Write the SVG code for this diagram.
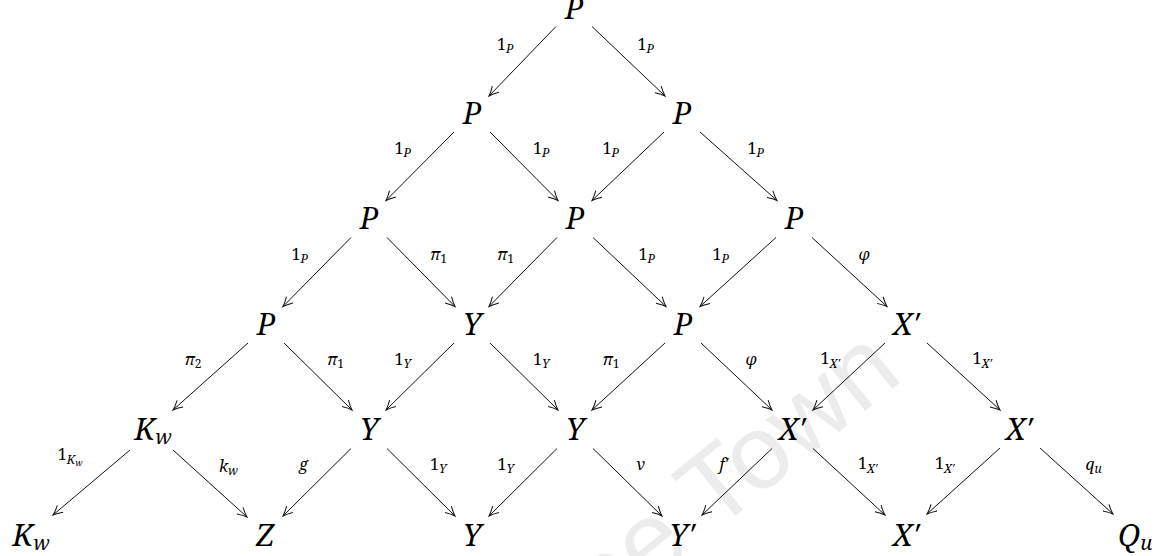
<svg xmlns="http://www.w3.org/2000/svg" width="1166" height="556" viewBox="0 0 1166 556">
<style>
.n{font-family:"Noto Serif",serif;font-size:30px;font-style:italic;text-anchor:middle;fill:#000}
.ns{font-size:20px}
.l{font-family:"Noto Serif",serif;font-size:16px;fill:#000}
.i{font-style:italic}
.s{font-size:12px;font-style:italic}
.sr{font-size:12px}
.ss{font-size:9px;font-style:italic}
.e{stroke:#111;stroke-width:1;fill:none;marker-end:url(#ah)}
.wm{font-family:"Liberation Sans",Arial,sans-serif;font-size:105px;fill:#ececec}
</style>
<defs>
<marker id="ah" markerUnits="userSpaceOnUse" viewBox="-12 -7 14 14" refX="0" refY="0" markerWidth="14" markerHeight="14" orient="auto">
<path d="M-9.5,-4.5 Q-4,-1.2 0,0 Q-4,1.2 -9.5,4.5" fill="none" stroke="#111" stroke-width="1"/>
</marker>
</defs>
<rect width="1166" height="556" fill="#fff"/>
<text class="wm" transform="translate(498,708) rotate(-39)">Cape Town</text>

<g id="connectors">
<path class="e" d="M556,26.5L489,96"/>
<path class="e" d="M592,26.5L665,96"/>
<path class="e" d="M454,132L386,200.5"/>
<path class="e" d="M490,132L558,200.5"/>
<path class="e" d="M664,132L592,200.5"/>
<path class="e" d="M700,132L777,200.5"/>
<path class="e" d="M351,237.5L283,306.5"/>
<path class="e" d="M387,237.5L455,306.5"/>
<path class="e" d="M557,237.5L489,306.5"/>
<path class="e" d="M593,237.5L666,306.5"/>
<path class="e" d="M776,237.5L700,306.5"/>
<path class="e" d="M812,237.5L887,306.5"/>
<path class="e" d="M248,343L173,410"/>
<path class="e" d="M284,343L352,410"/>
<path class="e" d="M454,343L386,410"/>
<path class="e" d="M490,343L558,410"/>
<path class="e" d="M665,343L592,410"/>
<path class="e" d="M701,343L772,410"/>
<path class="e" d="M885,343L813,410"/>
<path class="e" d="M927,343L1000,410"/>
<path class="e" d="M130,450L53,515"/>
<path class="e" d="M173,450L247,517"/>
<path class="e" d="M351,448.5L283,516"/>
<path class="e" d="M387,448.5L455,516"/>
<path class="e" d="M557,448.5L489,516"/>
<path class="e" d="M593,448.5L662,516"/>
<path class="e" d="M772,448.5L702,515"/>
<path class="e" d="M813,448.5L885,515"/>
<path class="e" d="M1000,448L927,514"/>
<path class="e" d="M1040,448L1113,514"/>
</g>

<g id="labels">
<text class="l" x="513.5" y="49.5" text-anchor="end">1<tspan class="s" dy="3">P</tspan></text>
<text class="l" x="637.5" y="49.5">1<tspan class="s" dy="3">P</tspan></text>
<text class="l" x="411" y="154" text-anchor="end">1<tspan class="s" dy="3">P</tspan></text>
<text class="l" x="533" y="154">1<tspan class="s" dy="3">P</tspan></text>
<text class="l" x="619" y="154" text-anchor="end">1<tspan class="s" dy="3">P</tspan></text>
<text class="l" x="747.5" y="154">1<tspan class="s" dy="3">P</tspan></text>
<text class="l" x="308" y="260" text-anchor="end">1<tspan class="s" dy="3">P</tspan></text>
<text class="l" x="430" y="260"><tspan class="i">π</tspan><tspan class="sr" dy="3">1</tspan></text>
<text class="l" x="514" y="260" text-anchor="end"><tspan class="i">π</tspan><tspan class="sr" dy="3">1</tspan></text>
<text class="l" x="638.5" y="260">1<tspan class="s" dy="3">P</tspan></text>
<text class="l" x="729" y="260" text-anchor="end">1<tspan class="s" dy="3">P</tspan></text>
<text class="l i" x="858.5" y="260">φ</text>
<text class="l" x="201.5" y="364.5" text-anchor="end"><tspan class="i">π</tspan><tspan class="sr" dy="3">2</tspan></text>
<text class="l" x="327" y="364.5"><tspan class="i">π</tspan><tspan class="sr" dy="3">1</tspan></text>
<text class="l" x="411" y="364.5" text-anchor="end">1<tspan class="s" dy="3">Y</tspan></text>
<text class="l" x="533" y="364.5">1<tspan class="s" dy="3">Y</tspan></text>
<text class="l" x="619.5" y="364.5" text-anchor="end"><tspan class="i">π</tspan><tspan class="sr" dy="3">1</tspan></text>
<text class="l i" x="745.5" y="364.5">φ</text>
<text class="l" x="840" y="363.5" text-anchor="end">1<tspan class="s" dy="4">X′</tspan></text>
<text class="l" x="972.5" y="363.5">1<tspan class="s" dy="4">X′</tspan></text>
<text class="l" x="82.5" y="460" text-anchor="end">1<tspan class="s" dy="4">K</tspan><tspan class="ss" dy="2">w</tspan></text>
<text class="l" x="219" y="471.5"><tspan class="i">k</tspan><tspan class="s" dy="3">w</tspan></text>
<text class="l i" x="308" y="470" text-anchor="end">g</text>
<text class="l" x="430" y="470">1<tspan class="s" dy="3">Y</tspan></text>
<text class="l" x="514" y="470" text-anchor="end">1<tspan class="s" dy="3">Y</tspan></text>
<text class="l i" x="636.5" y="470">v</text>
<text class="l i" x="728" y="470" text-anchor="end">f′</text>
<text class="l" x="858" y="469">1<tspan class="s" dy="4">X′</tspan></text>
<text class="l" x="954.5" y="469" text-anchor="end">1<tspan class="s" dy="4">X′</tspan></text>
<text class="l" x="1085.5" y="470"><tspan class="i">q</tspan><tspan class="s" dy="3">u</tspan></text>
</g>

<g id="n00"><text class="n" x="574" y="19">P</text></g>
<g id="n10"><text class="n" x="472" y="123.5">P</text></g>
<g id="n11"><text class="n" x="682" y="123.5">P</text></g>
<g id="n20"><text class="n" x="369" y="229">P</text></g>
<g id="n21"><text class="n" x="575" y="229">P</text></g>
<g id="n22"><text class="n" x="794" y="229">P</text></g>
<g id="n30"><text class="n" x="266" y="334.5">P</text></g>
<g id="n31"><text class="n" x="472" y="334.5">Y</text></g>
<g id="n32"><text class="n" x="683" y="334.5">P</text></g>
<g id="n33"><text class="n" x="906" y="334.5">X′</text></g>
<g id="n40"><text class="n" x="153" y="440">K<tspan class="ns" dy="4">w</tspan></text></g>
<g id="n41"><text class="n" x="369" y="440">Y</text></g>
<g id="n42"><text class="n" x="575" y="440">Y</text></g>
<g id="n43"><text class="n" x="792" y="440">X′</text></g>
<g id="n44"><text class="n" x="1019" y="440">X′</text></g>
<g id="n50"><text class="n" x="31" y="545.5">K<tspan class="ns" dy="4">w</tspan></text></g>
<g id="n51"><text class="n" x="265" y="545.5">Z</text></g>
<g id="n52"><text class="n" x="472" y="545.5">Y</text></g>
<g id="n53"><text class="n" x="682" y="545.5">Y′</text></g>
<g id="n54"><text class="n" x="906" y="545.5">X′</text></g>
<g id="n55"><text class="n" x="1135" y="545.5">Q<tspan class="ns" dy="4">u</tspan></text></g>
</svg>
